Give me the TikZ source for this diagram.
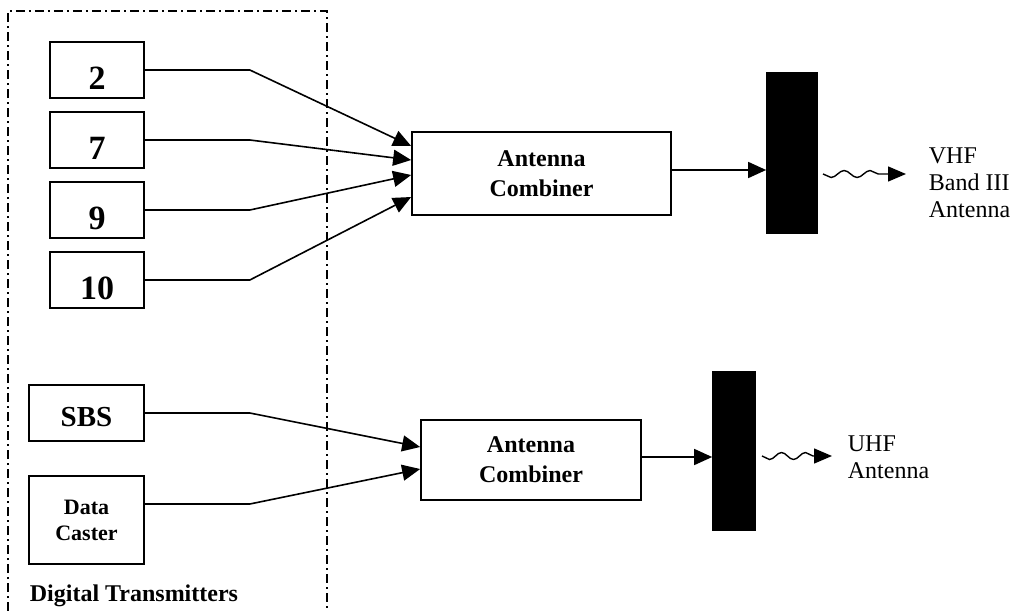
\documentclass[tikz,border=0pt]{standalone}
\usepackage{fontspec}
\setmainfont{Liberation Serif}
\usetikzlibrary{arrows.meta,decorations.pathmorphing,calc}
\begin{document}
\begin{tikzpicture}[x=1pt,y=-1pt,line width=1.7pt,
  box/.style={draw,line width=1.7pt,inner sep=0pt,align=center},
  numbox/.style={box,minimum width=94pt,minimum height=56pt,
    font=\bfseries\fontsize{34}{34}\selectfont,text height=38pt,text depth=0pt},
  combbox/.style={box,font=\bfseries\fontsize{24}{30}\selectfont},
  barbox/.style={draw=black,fill=black,inner sep=0pt},
  arr/.style={line width=1.6pt,-{Triangle[length=18pt,width=16pt]}},
  wave/.style={line width=1.4pt,-{Triangle[length=18pt,width=15pt]},decorate,
    decoration={snake,mirror,amplitude=3.5pt,segment length=26pt,post length=22pt}},
  lbl/.style={font=\fontsize{24}{27}\selectfont,align=left,anchor=west,inner sep=0pt},
  frame/.style={line width=1.6pt,dash pattern=on 9pt off 4pt on 2pt off 4pt}]
\useasboundingbox (0,0) rectangle (1013,611);
% frame
\coordinate (fa) at (8,611);
\coordinate (fb) at (8,11);
\coordinate (fc) at (327,11);
\coordinate (fd) at (327,611);
\draw[frame] (fa) -- (fb) -- (fc) -- (fd);
% transmitters
\node[numbox] (t2) at (97,70) {2};
\node[numbox] (t7) at (97,140) {7};
\node[numbox] (t9) at (97,210) {9};
\node[numbox] (t10) at (97,280) {10};
\node[box,minimum width=115pt,minimum height=56pt,
  font=\bfseries\fontsize{29}{29}\selectfont,text height=26pt,text depth=0pt] (sbs) at (86.5,413) {SBS};
\node[box,minimum width=115pt,minimum height=88pt,
  font=\bfseries\fontsize{22}{26}\selectfont] (dc) at (86.5,520) {Data\\Caster};
\node[font=\bfseries\fontsize{24}{24}\selectfont,anchor=base west,inner sep=0pt] (dt) at (29,601) {Digital Transmitters};
% combiners
\node[combbox,minimum width=259pt,minimum height=83pt] (c1) at (541.5,173.5) {Antenna\\Combiner};
\node[combbox,minimum width=220pt,minimum height=80pt] (c2) at (531,460) {Antenna\\Combiner};
% bars
\node[barbox,minimum width=50pt,minimum height=160pt] (b1) at (792,153) {};
\node[barbox,minimum width=42pt,minimum height=158pt] (b2) at (734,451) {};
% inputs
\draw[arr] (t2.east) -- ++(105,0) -- ([yshift=27.5pt]c1.west);
\draw[arr] (t7.east) -- ++(105,0) -- ([yshift=13.5pt]c1.west);
\draw[arr] (t9.east) -- ++(105,0) -- ([yshift=-1.5pt]c1.west);
\draw[arr] (t10.east) -- ++(105,0) -- ([yshift=-23.5pt]c1.west);
\draw[arr] (sbs.east) -- ++(105,0) -- ([yshift=13pt]c2.west);
\draw[arr] (dc.east |- 0,504) -- ++(105,0) -- ([yshift=-9pt]c2.west);
% outputs
\coordinate (o1) at ([yshift=3.5pt]c1.east);
\draw[arr] (o1) -- (b1.west |- o1);
\coordinate (o2) at ([yshift=3pt]c2.east);
\draw[arr] (o2) -- (b2.west |- o2);
% waves
\coordinate (w1s) at (823,174);
\coordinate (w1e) at (906,174);
\draw[wave] (w1s) -- (w1e);
\coordinate (w2s) at (762,456);
\coordinate (w2e) at (832,456);
\draw[wave,decoration={segment length=24pt,post length=19pt}] (w2s) -- (w2e);
% labels
\node[lbl] (vhf) at (928,183) {VHF\\Band III\\Antenna};
\node[lbl] (uhf) at (847,457) {UHF\\Antenna};
\end{tikzpicture}
\end{document}
